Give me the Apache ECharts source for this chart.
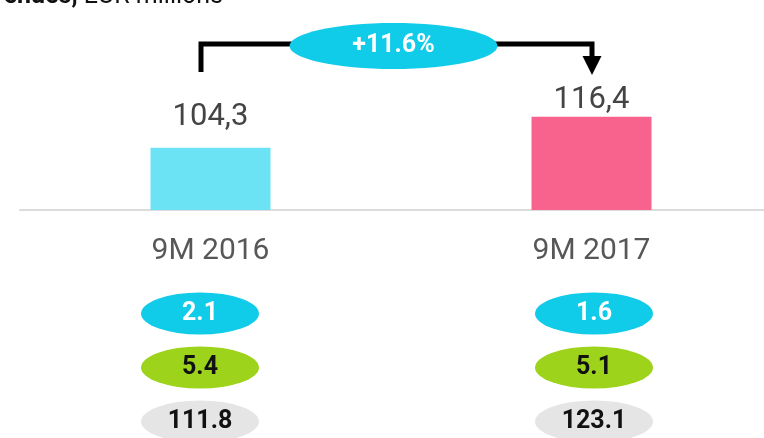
<!DOCTYPE html>
<html>
<head>
<meta charset="utf-8">
<script src="https://cdn.jsdelivr.net/npm/echarts@6/dist/echarts.min.js"></script>
<style>html,body{margin:0;padding:0;background:#fff;}#c{width:764px;height:438px;}</style>
</head>
<body>
<div id="c"></div>
<script>
const categories = ['9M 2016', '9M 2017'];
const revenues = [104.3, 116.4];
const rowCyan = [2.1, 1.6];
const rowGreen = [5.4, 5.1];
const rowGrey = [111.8, 123.1];
const rowNames = ['r1', 'r2', 'r3'];
const growthLabel = '+11.6%';
const titleBold = 'Revenues,';
const titleRest = ' EUR millions';

const FONT = 'Roboto';
const ellipsePath = 'path://M0 50A50 50 0 1 1 100 50A50 50 0 1 1 0 50Z';
const barColors = ['#6be3f5', '#f7638c'];
const labelGaps = [15, 1];

function rowSeries(vals, row, color, textColor) {
  return {
    type: 'scatter', xAxisIndex: 1, yAxisIndex: 1,
    symbol: ellipsePath, symbolSize: [118, 42],
    itemStyle: { color: color, opacity: 1 },
    label: { show: true, position: 'inside', color: textColor, fontFamily: FONT, fontWeight: 'bold', fontSize: 25,
      formatter: p => p.value[2].toFixed(1) },
    emphasis: { disabled: true },
    data: vals.map((v, i) => [categories[i], row, v])
  };
}

const chart = echarts.init(document.getElementById('c'), null, { renderer: 'canvas' });
chart.setOption({
  animation: false,
  backgroundColor: '#fff',
  grid: [
    { left: 20, width: 762, top: 5, height: 205, outerBoundsMode: 'none', containLabel: false },
    { left: 3, width: 788, top: 286.5, height: 162, outerBoundsMode: 'none', containLabel: false }
  ],
  xAxis: [
    { type: 'category', gridIndex: 0, data: categories,
      axisLine: { show: true, lineStyle: { color: '#dcdcdc', width: 2 } },
      axisTick: { show: false },
      axisLabel: { color: '#575757', fontFamily: FONT, fontSize: 30, margin: 26 } },
    { type: 'category', gridIndex: 1, data: categories, show: false }
  ],
  yAxis: [
    { type: 'value', gridIndex: 0, min: 80, max: 160, show: false, splitLine: { show: false } },
    { type: 'category', gridIndex: 1, data: rowNames, inverse: true, show: false }
  ],
  series: [
    { type: 'bar', xAxisIndex: 0, yAxisIndex: 0, barWidth: 120,
      data: revenues.map((v, i) => ({ value: v, itemStyle: { color: barColors[i] }, label: { distance: labelGaps[i] } })),
      label: { show: true, position: 'top', color: '#444', fontFamily: FONT, fontSize: 31,
        formatter: p => p.value.toFixed(1).replace('.', ',') } },
    rowSeries(rowCyan, rowNames[0], '#11cce8', '#fff'),
    rowSeries(rowGreen, rowNames[1], '#9ed31b', '#111'),
    rowSeries(rowGrey, rowNames[2], '#e5e5e5', '#111')
  ]
});

// bracket annotation positioned from the lower grid's category centres
const xL = chart.convertToPixel({ xAxisIndex: 1 }, categories[0]) + 1;
const xR = chart.convertToPixel({ xAxisIndex: 1 }, categories[1]) - 2;
const yTop = 44;
const xMid = (xL + xR) / 2 - 3;
chart.setOption({
  graphic: [
    { type: 'polyline', shape: { points: [[xL, 72], [xL, yTop], [xR, yTop], [xR, 57]] },
      style: { stroke: '#000', lineWidth: 5, fill: null, lineJoin: 'miter' }, z: 10 },
    { type: 'polygon', shape: { points: [[xR - 9.5, 56], [xR + 9.5, 56], [xR, 75]] },
      style: { fill: '#000' }, z: 10 },
    { type: 'ellipse', shape: { cx: xMid, cy: 46, rx: 104, ry: 23 },
      style: { fill: '#11cce8' }, z: 11 },
    { type: 'text', x: xMid, y: 46, z: 12,
      style: { text: growthLabel, fill: '#fff', font: 'bold 25px ' + FONT, textAlign: 'center', textVerticalAlign: 'middle' } },
    { type: 'text', x: 223, y: -3, z: 12,
      style: { text: '{b|' + titleBold + '}{n|' + titleRest + '}', textAlign: 'right', textVerticalAlign: 'middle',
        rich: { b: { fontFamily: FONT, fontWeight: 'bold', fontSize: 25, fill: '#111' },
                n: { fontFamily: FONT, fontSize: 25, fill: '#111' } } } }
  ]
});
</script>
</body>
</html>
